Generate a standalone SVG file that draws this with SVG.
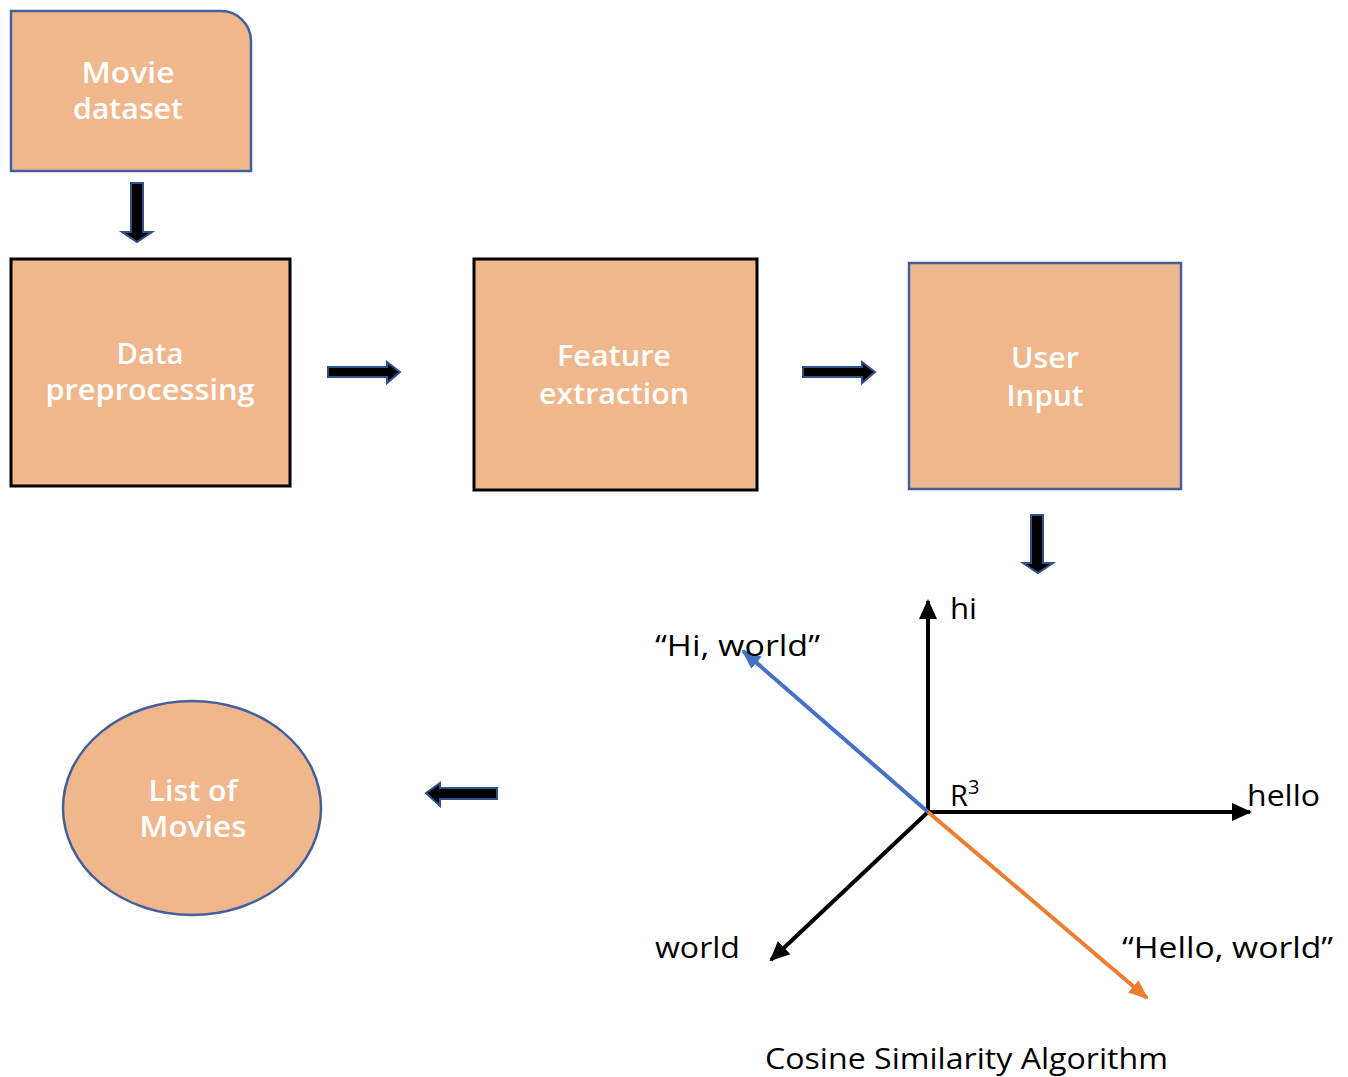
<svg xmlns="http://www.w3.org/2000/svg" width="1348" height="1077" viewBox="0 0 1348 1077">
<style>
.box{fill:#F0B78C;stroke-width:2.5}
.blue{stroke:#41609C}
.blk{stroke:#000;stroke-width:3}
.wt{fill:#fff;font-family:"Open Sans",sans-serif;font-size:29px;font-weight:600;text-anchor:middle}
.lb{fill:#000;font-family:"Open Sans",sans-serif;font-size:29px}
.barrow{fill:#000;stroke:#2F528F;stroke-width:2}
.vec{stroke-width:4;fill:none}
</style>
<defs>
<marker id="mk" markerUnits="userSpaceOnUse" markerWidth="20" markerHeight="20" refX="18" refY="10" orient="auto"><path d="M0,1 L20,10 L0,19 Z" fill="#000"/></marker>
<marker id="mb" markerUnits="userSpaceOnUse" markerWidth="20" markerHeight="20" refX="18" refY="10" orient="auto"><path d="M0,2 L20,10 L0,18 Z" fill="#4472C4"/></marker>
<marker id="mo" markerUnits="userSpaceOnUse" markerWidth="20" markerHeight="20" refX="18" refY="10" orient="auto"><path d="M0,2 L20,10 L0,18 Z" fill="#ED7D31"/></marker>
</defs>
<rect width="1348" height="1077" fill="#fff"/>
<g id="movie-dataset">
<path class="box blue" d="M11,11 H221 A30,30 0 0 1 251,41 V171 H11 Z"/>
<text class="wt" x="128" y="83" textLength="93" lengthAdjust="spacingAndGlyphs">Movie</text>
<text class="wt" x="128" y="119" textLength="110" lengthAdjust="spacingAndGlyphs">dataset</text>
</g>
<g id="data-preprocessing">
<rect class="box blk" x="11" y="259" width="279" height="227"/>
<text class="wt" x="150" y="364" textLength="67" lengthAdjust="spacingAndGlyphs">Data</text>
<text class="wt" x="150" y="400" textLength="209" lengthAdjust="spacingAndGlyphs">preprocessing</text>
</g>
<g id="feature-extraction">
<rect class="box blk" x="474" y="259" width="283" height="231"/>
<text class="wt" x="614" y="366" textLength="114" lengthAdjust="spacingAndGlyphs">Feature</text>
<text class="wt" x="614" y="404" textLength="150" lengthAdjust="spacingAndGlyphs">extraction</text>
</g>
<g id="user-input">
<rect class="box blue" x="909" y="263" width="272" height="226"/>
<text class="wt" x="1045" y="368" textLength="68" lengthAdjust="spacingAndGlyphs">User</text>
<text class="wt" x="1045" y="406" textLength="77" lengthAdjust="spacingAndGlyphs">Input</text>
</g>
<g id="list-of-movies">
<ellipse class="box blue" cx="192" cy="808" rx="129" ry="107"/>
<text class="wt" x="193" y="801" textLength="89" lengthAdjust="spacingAndGlyphs">List of</text>
<text class="wt" x="193" y="837" textLength="107" lengthAdjust="spacingAndGlyphs">Movies</text>
</g>
<g id="connectors">
<path class="barrow" d="M131,183 H143 V232 H152 L137,242 L122,232 H131 Z"/>
<path class="barrow" d="M328,367 H387 V362 L400,372 L387,383 V377 H328 Z"/>
<path class="barrow" d="M803,367 H862 V362 L875,372 L862,383 V377 H803 Z"/>
<path class="barrow" d="M497,788 H440 V783 L426,793 L440,806 V799 H497 Z"/>
<path class="barrow" d="M1031,515 H1043 V563 H1053 L1038,573 L1023,563 H1031 Z"/>
</g>
<g id="cosine-similarity">
<line class="vec" x1="928" y1="814" x2="928" y2="601" stroke="#000" marker-end="url(#mk)"/>
<line class="vec" x1="926" y1="812" x2="1250" y2="812" stroke="#000" marker-end="url(#mk)"/>
<line class="vec" x1="928" y1="812" x2="771" y2="960" stroke="#000" marker-end="url(#mk)"/>
<line class="vec" x1="928" y1="812" x2="743" y2="651" stroke="#4472C4" marker-end="url(#mb)"/>
<line class="vec" x1="928" y1="812" x2="1147" y2="998" stroke="#ED7D31" marker-end="url(#mo)"/>
<text class="lb" x="950" y="619" textLength="27" lengthAdjust="spacingAndGlyphs">hi</text>
<text class="lb" x="1247" y="806" textLength="73" lengthAdjust="spacingAndGlyphs">hello</text>
<text class="lb" x="950" y="806">R<tspan font-size="20" dy="-12">3</tspan></text>
<text class="lb" x="655" y="958" textLength="85" lengthAdjust="spacingAndGlyphs">world</text>
<text class="lb" x="655" y="656" textLength="165" lengthAdjust="spacingAndGlyphs">“Hi, world”</text>
<text class="lb" x="1122" y="958" textLength="211" lengthAdjust="spacingAndGlyphs">“Hello, world”</text>
<text class="lb" x="765" y="1069" textLength="403" lengthAdjust="spacingAndGlyphs">Cosine Similarity Algorithm</text>
</g>
</svg>
